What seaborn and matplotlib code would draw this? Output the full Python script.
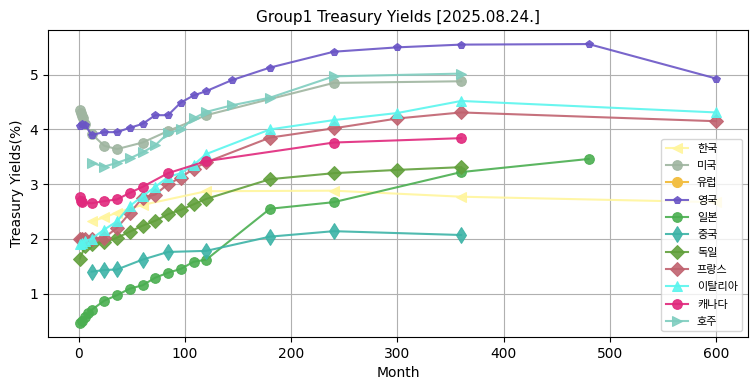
import matplotlib
matplotlib.use("Agg")
import matplotlib.pyplot as plt
import seaborn as sns
import pandas as pd

# ---- data ----
countries = ["한국", "미국", "유럽", "영국", "일본", "중국", "독일", "프랑스", "이탈리아", "캐나다", "호주"]

kr_m = [12, 24, 36, 60, 120, 240, 360, 600]
kr_v = [2.32, 2.39, 2.48, 2.62, 2.87, 2.88, 2.77, 2.67]

us_m = [1, 2, 3, 4, 6, 12, 24, 36, 60, 84, 120, 240, 360]
us_v = [4.35, 4.30, 4.25, 4.20, 4.10, 3.92, 3.70, 3.64, 3.76, 3.97, 4.26, 4.85, 4.88]

eu_m = []
eu_v = []

uk_m = [1, 3, 6, 12, 24, 36, 48, 60, 72, 84, 96, 108, 120, 144, 180, 240, 300, 360, 480, 600]
uk_v = [4.07, 4.10, 4.08, 3.90, 3.95, 3.95, 4.03, 4.10, 4.26, 4.26, 4.49, 4.62, 4.70, 4.90, 5.13, 5.42, 5.50, 5.55, 5.56, 4.93]

jp_m = [1, 3, 6, 9, 12, 24, 36, 48, 60, 72, 84, 96, 108, 120, 180, 240, 360, 480]
jp_v = [0.46, 0.50, 0.57, 0.64, 0.70, 0.87, 0.97, 1.09, 1.15, 1.29, 1.38, 1.45, 1.58, 1.62, 2.55, 2.67, 3.22, 3.46]

cn_m = [12, 24, 36, 60, 84, 120, 180, 240, 360]
cn_v = [1.40, 1.43, 1.44, 1.62, 1.76, 1.78, 2.04, 2.14, 2.07]

de_m = [1, 6, 12, 24, 36, 48, 60, 72, 84, 96, 108, 120, 180, 240, 300, 360]
de_v = [1.64, 1.86, 1.90, 1.94, 2.02, 2.13, 2.24, 2.33, 2.45, 2.53, 2.63, 2.73, 3.09, 3.20, 3.26, 3.31]

fr_m = [1, 3, 6, 12, 24, 36, 48, 60, 72, 84, 96, 108, 120, 180, 240, 300, 360, 600]
fr_v = [2.00, 2.00, 2.00, 2.00, 2.02, 2.20, 2.47, 2.75, 2.81, 3.00, 3.12, 3.28, 3.40, 3.85, 4.02, 4.20, 4.31, 4.15]

it_m = [1, 3, 6, 12, 24, 36, 48, 60, 72, 84, 96, 108, 120, 180, 240, 300, 360, 600]
it_v = [1.90, 1.93, 1.96, 2.00, 2.17, 2.32, 2.60, 2.78, 2.95, 3.13, 3.20, 3.35, 3.55, 4.00, 4.17, 4.30, 4.52, 4.31]

ca_m = [1, 2, 3, 12, 24, 36, 48, 60, 84, 120, 240, 360]
ca_v = [2.77, 2.70, 2.67, 2.65, 2.69, 2.72, 2.84, 2.95, 3.20, 3.42, 3.76, 3.84]

au_m = [12, 24, 36, 48, 60, 72, 84, 96, 108, 120, 144, 180, 240, 360]
au_v = [3.39, 3.32, 3.39, 3.47, 3.58, 3.71, 3.93, 4.00, 4.20, 4.32, 4.44, 4.58, 4.97, 5.02]

series_m = [kr_m, us_m, eu_m, uk_m, jp_m, cn_m, de_m, fr_m, it_m, ca_m, au_m]
series_v = [kr_v, us_v, eu_v, uk_v, jp_v, cn_v, de_v, fr_v, it_v, ca_v, au_v]

colors = ["#fff59d", "#9fb5a0", "#f2bf45", "#6a55c6", "#4aae50", "#3cb3a6",
          "#62a03c", "#c0626f", "#5af5ee", "#e0287c", "#7ecdbf"]
markers = ["<", "o", "o", "p", "o", "d", "D", "D", "^", "o", ">"]
msizes = [7, 7, 7, 6, 7, 8, 7, 7, 7, 7, 7]

# ---- plot ----
plt.rcParams['font.family'] = ['DejaVu Sans', 'Noto Sans CJK KR']
fig, ax = plt.subplots(figsize=(7.55, 3.91), dpi=100)
fig.subplots_adjust(left=0.0636, right=0.9907, top=0.923, bottom=0.138)

for name, m, v, c, mk, ms in zip(countries, series_m, series_v, colors, markers, msizes):
    if len(m) == 0:
        ax.plot([], [], color=c, marker=mk, markersize=ms, label=name)
        continue
    df = pd.DataFrame({"Month": m, "Yield": v})
    sns.lineplot(data=df, x="Month", y="Yield", color=c, marker=mk, markersize=ms,
                 markeredgecolor=c, linewidth=1.5, alpha=0.9, label=name, ax=ax)

ax.grid(True, color="#b0b0b0", linewidth=0.8)
ax.set_axisbelow(True)
ax.set_title("Group1 Treasury Yields [2025.08.24.]", fontsize=11)
ax.set_xlabel("Month", fontsize=10)
ax.set_ylabel("Treasury Yields(%)", fontsize=10)
ax.set_xticks([0, 100, 200, 300, 400, 500, 600])
ax.set_yticks([1, 2, 3, 4, 5])
ax.legend(loc="lower right", fontsize=8, handlelength=2, labelspacing=0.66)

fig.savefig("out.png", dpi=100)
